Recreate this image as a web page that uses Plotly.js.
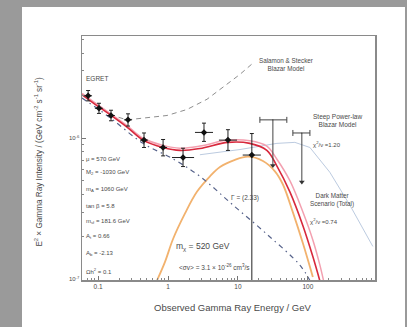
<!DOCTYPE html>
<html><head><meta charset="utf-8">
<script src="https://cdn.plot.ly/plotly-3.0.1.min.js"></script>
<style>
html,body{margin:0;padding:0;background:#9a9a9a;width:407px;height:327px;overflow:hidden}
#chart{position:absolute;left:22px;top:7px;width:383px;height:320px;background:#fff}
</style></head><body>
<div id="chart"></div>
<script>
// EGRET data points (GeV, GeV cm^-2 s^-1 sr^-1)
const egretE   = [0.072, 0.103, 0.153, 0.268, 0.454, 0.85, 1.64, 3.27, 7.2, 15.8];
const egretI   = [2.0e-6, 1.63e-6, 1.45e-6, 1.35e-6, 0.97e-6, 0.86e-6, 0.73e-6, 1.10e-6, 0.97e-6, 0.76e-6];
const egretIup = [0.18e-6, 0.14e-6, 0.13e-6, 0.14e-6, 0.12e-6, 0.12e-6, 0.12e-6, 0.18e-6, 0.18e-6, 0.32e-6];
const egretIdn = [0.16e-6, 0.13e-6, 0.12e-6, 0.13e-6, 0.11e-6, 0.11e-6, 0.10e-6, 0.15e-6, 0.15e-6, 0.67e-6];
const egretEup = [0.010, 0.014, 0.021, 0.038, 0.064, 0.12, 0.72, 1.13, 2.5, 5.5];
const egretEdn = [0.009, 0.013, 0.019, 0.033, 0.056, 0.10, 0.50, 0.84, 1.85, 4.1];

// upper limits
const ulE    = [31.6, 82];
const ulEup  = [18.4, 25];
const ulEdn  = [11.0, 21];
const ulI    = [1.35e-6, 1.09e-6];
const ulIend = [6.4e-7, 4.9e-7];

// total dark matter scenario (red) and its band edge (pink)
const totE = [0.059, 0.0906, 0.148, 0.259, 0.44, 0.85, 1.48, 2.86, 7.2, 14.8, 25.9, 36.1, 55.3, 84.9, 117.8, 148];
const totI = [2.03e-6, 1.74e-6, 1.47e-6, 1.20e-6, 9.7e-7, 8.6e-7, 8.2e-7, 8.45e-7, 9.35e-7, 9.2e-7, 8.2e-7, 6.35e-7, 4.17e-7, 2.40e-7, 1.45e-7, 9.8e-8];
const bandE = [0.059, 0.0906, 0.148, 0.259, 0.44, 0.85, 1.48, 2.86, 7.2, 14.8, 25.9, 36.1, 55.3, 84.9, 117.8, 148, 170];
const bandI = [2.08e-6, 1.78e-6, 1.5e-6, 1.23e-6, 1.0e-6, 8.9e-7, 8.5e-7, 8.8e-7, 9.7e-7, 9.6e-7, 8.8e-7, 7.1e-7, 5.0e-7, 3.0e-7, 1.9e-7, 1.27e-7, 9.5e-8];

// neutralino annihilation component (orange)
const dmE = [0.697, 0.906, 1.18, 1.75, 2.59, 3.98, 5.53, 9.06, 13.9, 22.8, 33.8, 44.0, 61.1, 84.9, 117.8];
const dmI = [9.84e-8, 1.33e-7, 1.93e-7, 2.93e-7, 4.17e-7, 5.37e-7, 6.25e-7, 7.03e-7, 7.40e-7, 6.90e-7, 5.83e-7, 4.70e-7, 2.98e-7, 1.80e-7, 1.04e-7];

// power law background (dash-dot)
const plE = [0.059, 0.148, 0.44, 1.18, 2.86, 8.49, 25.9, 76.9, 107];
const plI = [1.93e-6, 1.40e-6, 9.2e-7, 7.14e-7, 5.37e-7, 3.36e-7, 2.09e-7, 1.26e-7, 9.8e-8];

// Salamon & Stecker blazar model (gray dashed)
const ssE = [0.148, 0.259, 0.968, 1.87, 3.61, 6.97, 10.7, 16.4];
const ssI = [1.47e-6, 1.35e-6, 1.45e-6, 1.60e-6, 1.89e-6, 2.40e-6, 2.84e-6, 3.41e-6];

// second blazar model (light)
const bzE = [2.86, 10.7, 36.1, 65.2, 107, 206, 398, 849];
const bzI = [7.64e-7, 8.32e-7, 9.2e-7, 9.35e-7, 8.6e-7, 5.74e-7, 3.36e-7, 1.71e-7];

const xTickVals = [0.1, 1, 10, 100, 1000];
const xTickText = ['0.1', '1', '10', '100', '1000'];
const yTickVals = [1e-7, 1e-6];
const yTickText = ['10<sup>-7</sup>', '10<sup>-6</sup>'];
const xMinor = [0.06,0.07,0.08,0.09,0.2,0.3,0.4,0.5,0.6,0.7,0.8,0.9,2,3,4,5,6,7,8,9,20,30,40,50,60,70,80,90,200,300,400,500,600,700,800,900];
const yMinor = [2e-7,3e-7,4e-7,5e-7,6e-7,7e-7,8e-7,9e-7,2e-6,3e-6,4e-6,5e-6];

const params = ['μ = 570 GeV', 'M<sub>2</sub> = -1030 GeV', 'm<sub>A</sub> = 1060 GeV', 'tan β = 5.8',
                'm<sub>sf</sub> = 181.6 GeV', 'A<sub>t</sub> = 0.66', 'A<sub>b</sub> = -2.13', 'Ωh<sup>2</sup> = 0.1'];

const traces = [
  {x: bzE, y: bzI, mode: 'lines', line: {color: '#bccbe0', width: 1}, hoverinfo: 'skip'},
  {x: ssE, y: ssI, mode: 'lines', line: {color: '#8e8e8e', width: 1, dash: '5px,4px'}, hoverinfo: 'skip'},
  {x: dmE, y: dmI, mode: 'lines', line: {color: '#f2b26e', width: 1.8, shape: 'spline'}, hoverinfo: 'skip'},
  {x: plE, y: plI, mode: 'lines', line: {color: '#56628a', width: 1.2, dash: '5px,4px,1.5px,4px', shape: 'spline'}, hoverinfo: 'skip'},
  {x: bandE, y: bandI, mode: 'lines', line: {color: '#f3a0b0', width: 1.5, shape: 'spline'}, hoverinfo: 'skip'},
  {x: totE, y: totI, mode: 'lines', line: {color: '#d8283c', width: 1.6, shape: 'spline'}, hoverinfo: 'skip'},
  {x: egretE, y: egretI, mode: 'markers',
   marker: {symbol: 'diamond', size: 5, color: '#111'},
   error_y: {type: 'data', symmetric: false, array: egretIup, arrayminus: egretIdn, color: '#222', thickness: 1, width: 2},
   error_x: {type: 'data', symmetric: false, array: egretEup, arrayminus: egretEdn, color: '#222', thickness: 1, width: 0}},
  {x: ulE, y: ulI, mode: 'markers', marker: {size: 1, color: '#333'},
   error_x: {type: 'data', symmetric: false, array: ulEup, arrayminus: ulEdn, color: '#444', thickness: 1, width: 3},
   error_y: {type: 'data', symmetric: false, array: [0, 0],
             arrayminus: ulI.map((v, i) => v - ulIend[i]), color: '#444', thickness: 1, width: 0}},
  {x: ulE, y: ulIend, mode: 'markers', marker: {symbol: 'triangle-down', size: 5, color: '#333'}}
];

const X0 = 82, X1 = 375, Y0 = 36, Y1 = 273;
const px = v => (v - X0) / (X1 - X0);
const py = v => (Y1 - v) / (Y1 - Y0);
const txt = '#4a4a4a';
const ann = (x, y, text, size, extra) => Object.assign({xref: 'paper', yref: 'paper', x: px(x), y: py(y), text: text,
  showarrow: false, xanchor: 'left', yanchor: 'middle', font: {size: size, color: txt, family: 'Liberation Sans, Arial'}}, extra || {});

const annotations = [
  ann(84, 77, 'EGRET', 6.5),
  ann(257, 64, 'Salamon &amp; Stecker<br>Blazar Model', 6.3),
  ann(311, 118, 'Steep Power-law<br>Blazar Model', 6.5),
  ann(311, 141, 'χ<sup>2</sup>/ν =1.20', 6),
  ann(308, 195, 'Dark Matter<br>Scenario (Total)', 6.3),
  ann(308, 216, 'χ<sup>2</sup>/ν =0.74', 6),
  ann(174, 240, 'm<sub>χ</sub> = 520 GeV', 8.5),
  ann(177, 260, '&lt;σv&gt; = 3.1 × 10<sup>-26</sup> cm<sup>3</sup>/s', 6.5),
  ann(229, 193, 'Γ = (2.33)', 6.5),
  ann(38, 158, 'E<sup>2</sup> × Gamma Ray Intensity / (GeV cm<sup>-2</sup> s<sup>-1</sup> sr<sup>-1</sup>)', 8.2,
      {textangle: -90, xanchor: 'center'}),
  ann(232, 300, 'Observed Gamma Ray Energy / GeV', 9.5, {xanchor: 'center'})
];
const pY = [155, 169, 185, 201, 216, 231, 247, 264];
params.forEach((p, i) => annotations.push(ann(84, pY[i], p, 6)));

const layout = {
  width: 383, height: 320,
  margin: {l: 60, r: 30, t: 29, b: 47},
  paper_bgcolor: '#ffffff', plot_bgcolor: '#ffffff',
  showlegend: false,
  font: {family: 'Liberation Sans, Arial', color: txt},
  xaxis: {type: 'log', range: [-1.23, 2.96], tickmode: 'array', tickvals: xTickVals, ticktext: xTickText,
          ticks: 'inside', ticklen: 4, tickcolor: '#777', showgrid: false, zeroline: false,
          showline: true, mirror: true, linecolor: '#8a8a8a', linewidth: 1.5,
          tickfont: {size: 6.5, color: txt},
          minor: {tickmode: 'array', tickvals: xMinor, ticks: 'inside', ticklen: 2, tickcolor: '#888', showgrid: false}},
  yaxis: {type: 'log', range: [-7.005, -5.275], tickmode: 'array', tickvals: yTickVals, ticktext: yTickText,
          ticks: 'inside', ticklen: 4, tickcolor: '#777', showgrid: false, zeroline: false,
          showline: true, mirror: true, linecolor: '#8a8a8a', linewidth: 1.5,
          tickfont: {size: 6, color: txt},
          minor: {tickmode: 'array', tickvals: yMinor, ticks: 'inside', ticklen: 2, tickcolor: '#888', showgrid: false}},
  annotations: annotations
};

Plotly.newPlot('chart', traces, layout, {displayModeBar: false, staticPlot: true});
</script>
</body></html>
